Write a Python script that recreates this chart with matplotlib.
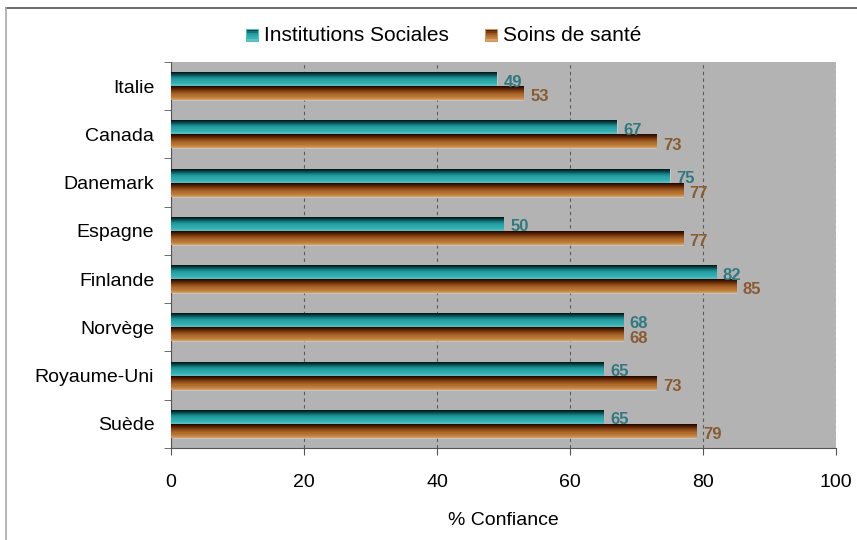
import numpy as np
import matplotlib.pyplot as plt
from matplotlib.colors import LinearSegmentedColormap
from matplotlib.patches import Rectangle
from matplotlib.lines import Line2D
from matplotlib.legend_handler import HandlerBase

plt.rcParams['font.family'] = ['Liberation Sans', 'DejaVu Sans']

pays = ["Italie", "Canada", "Danemark", "Espagne", "Finlande", "Norvège",
        "Royaume-Uni", "Suède"]
institutions = [49, 67, 75, 50, 82, 68, 65, 65]
soins = [53, 73, 77, 77, 85, 68, 73, 79]

teal_cmap = LinearSegmentedColormap.from_list(
    "teal", ["#001414", "#0b4f52", "#1a9094", "#2aa7aa", "#34aeb1", "#5fc2c4"])
brown_cmap = LinearSegmentedColormap.from_list(
    "brown", ["#1e0500", "#5a2408", "#8c4a17", "#ad6a2c", "#bb7a38", "#d8a068"])
grad = np.linspace(0, 1, 64).reshape(-1, 1)

fig = plt.figure(figsize=(8.57, 5.40), dpi=100)
ax = fig.add_axes([0.1995, 0.1704, 0.776, 0.7148])
ax.set_facecolor("#b3b3b3")

h = 0.29
y = np.arange(len(pays))


def gradient_bar(x, y0, y1, cmap):
    # row 0 of the image goes to y0, which is the upper edge (inverted axis)
    ax.imshow(grad, cmap=cmap, aspect="auto", origin="upper",
              extent=(0, x, y1, y0), interpolation="bilinear", zorder=3)
    ax.add_patch(Rectangle((0, y0), x, y1 - y0, fill=False,
                           edgecolor="#d8d8d8", lw=0.6, alpha=0.6, zorder=2))


for i in y:
    gradient_bar(institutions[i], i - h, i, teal_cmap)
    gradient_bar(soins[i], i, i + h, brown_cmap)
    ax.text(institutions[i] + 1.0, i - h / 2 + 0.06, str(institutions[i]),
            color="#2e7a80", fontsize=12, fontweight="bold", va="center",
            ha="left", zorder=4)
    ax.text(soins[i] + 1.0, i + h / 2 + 0.08, str(soins[i]),
            color="#8a5a30", fontsize=12, fontweight="bold", va="center",
            ha="left", zorder=4)

ax.set_xlim(0, 100)
ax.set_ylim(len(pays) - 0.5, -0.5)
ax.set_yticks(y)
ax.set_yticklabels(pays, fontsize=14)
ax.set_yticks(np.arange(-0.5, len(pays)), minor=True)
ax.tick_params(axis="y", which="major", length=0, pad=12)
ax.tick_params(axis="y", which="minor", length=5, color="#555555",
               direction="out")
ax.set_xticks(np.arange(0, 101, 20))
ax.tick_params(axis="x", length=5, color="#555555", labelsize=14, pad=14)
ax.set_xlabel("% Confiance", fontsize=14, labelpad=15)

ax.grid(axis="x", color="#5a5a5a", linestyle=(0, (3, 3)), lw=0.8, zorder=1)
ax.set_axisbelow(True)
for side in ["top", "right"]:
    ax.spines[side].set_visible(False)
ax.spines["left"].set_color("#555555")
ax.spines["bottom"].set_color("#555555")
ax.axvline(100, color="#e8e8e8", linestyle=(0, (2, 2)), lw=1, zorder=1)


class GradientHandler(HandlerBase):
    def __init__(self, cmap):
        super().__init__()
        self.cmap = cmap

    def create_artists(self, legend, orig_handle, xdescent, ydescent,
                       width, height, fontsize, trans):
        s = height * 0.8
        x0 = xdescent + width - s
        artists = []
        n = 6
        for k in range(n):
            r = Rectangle((x0, -ydescent + s - (k + 1) * s / n), s, s / n,
                          facecolor=self.cmap(0.15 + 0.85 * k / (n - 1)),
                          lw=0, transform=trans)
            artists.append(r)
        artists.append(Rectangle((x0, -ydescent), s, s, fill=False,
                                 edgecolor=self.cmap(0.95), lw=0.8,
                                 transform=trans))
        return artists


h1 = Rectangle((0, 0), 1, 1)
h2 = Rectangle((0, 0), 1, 1)
fig.legend([h1, h2], ["Institutions Sociales", "Soins de santé"],
           handler_map={h1: GradientHandler(teal_cmap),
                        h2: GradientHandler(brown_cmap)},
           loc="center", bbox_to_anchor=(0.515, 0.935), ncol=2, frameon=False,
           fontsize=15, handlelength=0.8, handletextpad=0.3, columnspacing=1.5)

# thin frame on the top and left edges of the figure
fig.add_artist(Line2D([0.007, 1.0], [0.985, 0.985], color="#505050", lw=1.2,
                      transform=fig.transFigure))
fig.add_artist(Line2D([0.007, 0.007], [0.0, 0.985], color="#a8a8a8", lw=1.2,
                      transform=fig.transFigure))

fig.savefig("out.png", dpi=100)
